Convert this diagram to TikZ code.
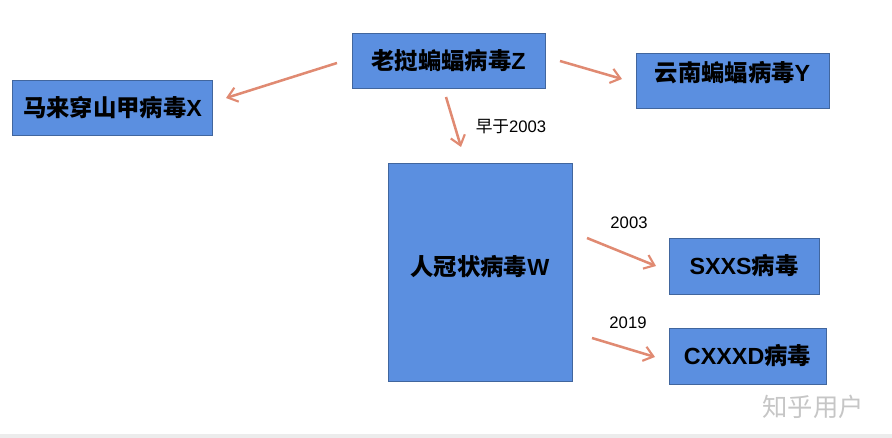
\documentclass[tikz,border=0pt]{standalone}
\usepackage{fontspec}
\setmainfont{Liberation Sans}
\newfontfamily\cjk{Noto Sans CJK SC}
\usetikzlibrary{arrows.meta}
\definecolor{boxblue}{HTML}{5B8FE0}
\definecolor{boxedge}{HTML}{41669E}
\definecolor{arrowred}{HTML}{E08A72}
\tikzset{
  virus/.style={draw=boxedge, fill=boxblue, line width=0.6pt, font=\bfseries\fontsize{17.5}{20}\selectfont, inner sep=0pt},
  spread/.style={draw=arrowred, line width=1.9pt, -{Straight Barb[length=7pt,width=11pt,line width=1.6pt]}},
  year/.style={font=\fontsize{12.5}{14}\selectfont}
}
\begin{document}
\begin{tikzpicture}[x=0.75pt, y=-0.75pt]
    \useasboundingbox (0,0) rectangle (892,438);
    \fill[gray!15] (0,434) rectangle (892,438);

    \node[virus, minimum width=193*0.75pt, minimum height=55*0.75pt] (z) at (448.5,60.5) {{\cjk 老挝蝙蝠病毒}Z};
    \node[virus, minimum width=200*0.75pt, minimum height=55*0.75pt] (x) at (112.5,107.5) {{\cjk 马来穿山甲病毒}X};
    \node[virus, minimum width=193*0.75pt, minimum height=55*0.75pt, text depth=14pt] (y) at (732.5,80.5) {{\cjk 云南蝙蝠病毒}Y};
    \node[virus, minimum width=184*0.75pt, minimum height=218*0.75pt, text depth=10pt] (w) at (480,272) {{\cjk 人冠状病毒}W};
    \node[virus, minimum width=150*0.75pt, minimum height=56*0.75pt] (s) at (744,266) {SXXS{\cjk 病毒}};
    \node[virus, minimum width=157*0.75pt, minimum height=56*0.75pt] (c) at (747.5,356) {CXXXD{\cjk 病毒}};

    \coordinate (zx1) at (337,63);  \coordinate (zx2) at (226,98);
    \coordinate (zy1) at (560,61);  \coordinate (zy2) at (622,79);
    \coordinate (zw1) at (446,97);  \coordinate (zw2) at (461,147);
    \coordinate (ws1) at (587,238); \coordinate (ws2) at (656,266);
    \coordinate (wc1) at (592,338); \coordinate (wc2) at (655,357);

    \draw[spread] (zx1) -- (zx2);
    \draw[spread] (zy1) -- (zy2);
    \draw[spread] (zw1) -- (zw2);
    \draw[spread] (ws1) -- (ws2);
    \draw[spread] (wc1) -- (wc2);

    \node[year] (early) at (511,127) {{\cjk 早于}2003};
    \node[year] (y2003) at (629,223) {2003};
    \node[year] (y2019) at (628,323) {2019};

    \node[text=gray!45, font=\cjk\fontsize{19}{22}\selectfont] (mark) at (813,407) {知乎用户};
\end{tikzpicture}
\end{document}
